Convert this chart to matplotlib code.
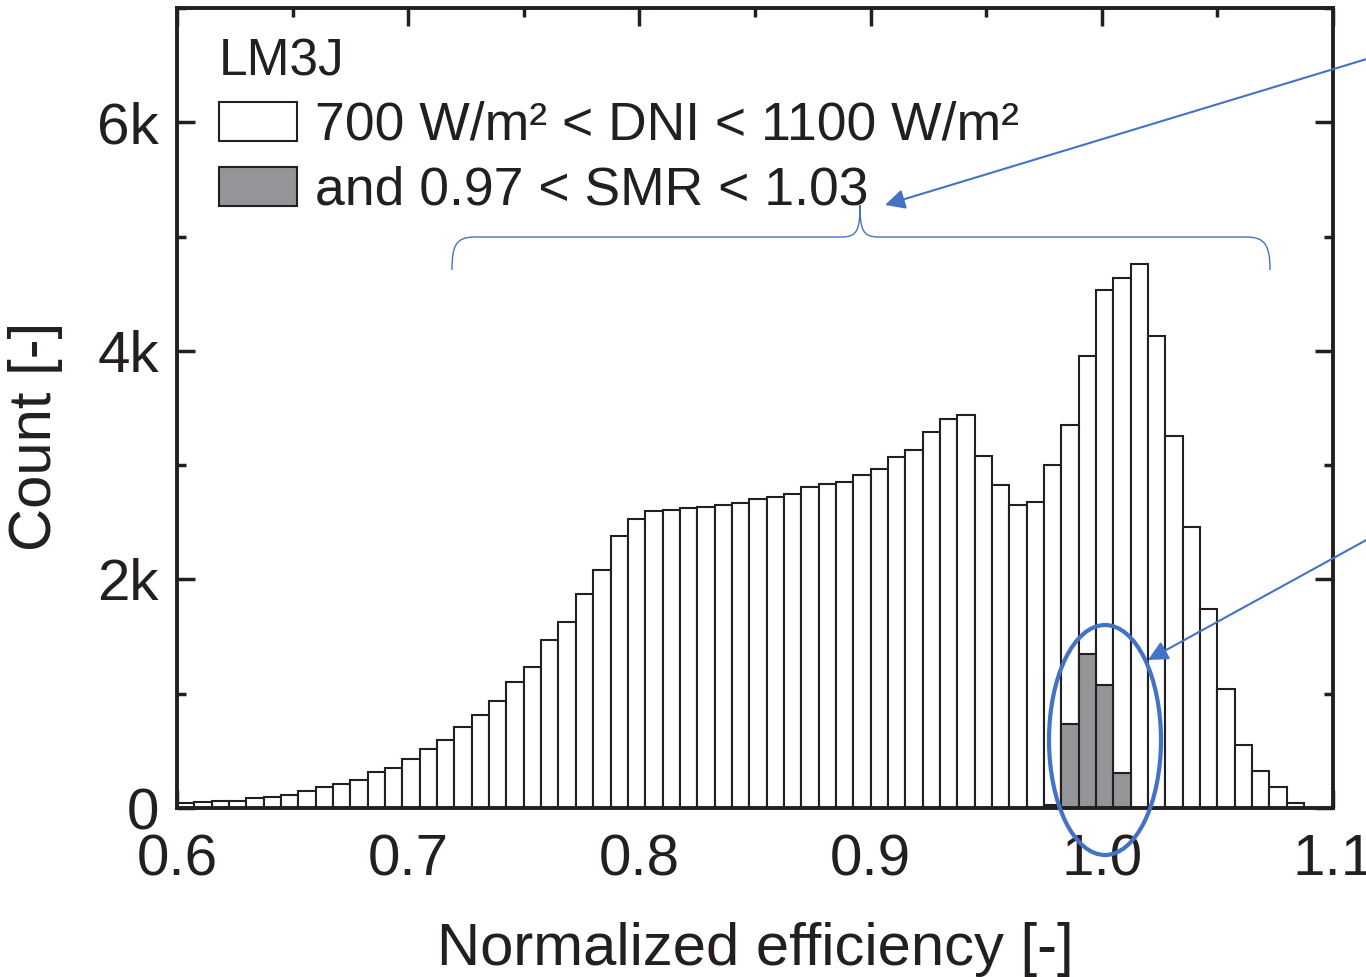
import matplotlib
matplotlib.use('Agg')
import matplotlib.pyplot as plt
import matplotlib.transforms as mtransforms
from matplotlib.patches import Patch, Ellipse, FancyArrowPatch, PathPatch
from matplotlib.path import Path
from matplotlib.ticker import MultipleLocator, FuncFormatter
import numpy as np

plt.rcParams['font.family'] = ['Liberation Sans', 'DejaVu Sans']

# histogram data (counts per bin), bins start at 0.6 with width 0.0075
bin_start = 0.6
bin_width = 0.0075
counts_all = [40, 50, 62, 58, 84, 100, 112, 150, 185, 213,
              242, 315, 352, 428, 520, 597, 707, 816, 938, 1102,
              1238, 1471, 1628, 1870, 2085, 2376, 2533, 2597, 2609, 2621,
              2635, 2652, 2670, 2702, 2719, 2748, 2807, 2839, 2853, 2914,
              2970, 3075, 3130, 3290, 3400, 3441, 3083, 2830, 2650, 2675,
              2999, 3349, 3952, 4532, 4639, 4757, 4129, 3252, 2461, 1742,
              1042, 548, 323, 187, 42]
# subset with 0.97 < SMR < 1.03 (bins 50..54)
smr_first_bin = 50
counts_smr = [25, 732, 1345, 1074, 303]

label_all = '700 W/m² < DNI < 1100 W/m²'
label_smr = 'and 0.97 < SMR < 1.03'
legend_title = 'LM3J'

W, H = 1366, 977
fig = plt.figure(figsize=(W / 100, H / 100), dpi=100)
ax = fig.add_axes([177 / W, 1 - 808 / H, (1333 - 177) / W, 800 / H])

edge = '#231f20'
gray = '#939598'
blue = '#4472c4'

x_all = bin_start + np.arange(len(counts_all)) * bin_width
x_smr = bin_start + (smr_first_bin + np.arange(len(counts_smr))) * bin_width
ax.bar(x_all, counts_all, width=bin_width, align='edge', color='white',
       edgecolor=edge, linewidth=1.5, zorder=2)
ax.bar(x_smr, counts_smr, width=bin_width, align='edge', color=gray,
       edgecolor=edge, linewidth=1.5, zorder=3)

ax.set_xlim(0.6, 1.1)
ax.set_ylim(0, 7000)
ax.xaxis.set_major_locator(MultipleLocator(0.1))
ax.xaxis.set_minor_locator(MultipleLocator(0.05))
ax.yaxis.set_major_locator(MultipleLocator(2000))
ax.yaxis.set_minor_locator(MultipleLocator(1000))
ax.xaxis.set_major_formatter(FuncFormatter(lambda v, p: '%.1f' % v))
ax.yaxis.set_major_formatter(FuncFormatter(lambda v, p: '0' if v == 0 else '%dk' % round(v / 1000)))

ax.tick_params(which='both', direction='in', top=True, right=True,
               width=2.5, color=edge, labelsize=42, labelcolor=edge)
ax.tick_params(which='major', length=13)
ax.tick_params(which='minor', length=6.5)
ax.tick_params(axis='x', pad=18)
ax.tick_params(axis='y', pad=13)
for s in ax.spines.values():
    s.set_linewidth(2.8)
    s.set_color(edge)
    s.set_zorder(5)

ax.set_xlabel('Normalized efficiency [-]', fontsize=43, color=edge)
ax.set_ylabel('Count [-]', fontsize=43, color=edge)
ax.xaxis.set_label_coords(0.5, -0.143)
ax.yaxis.set_label_coords(-0.099, 0.464)

handles = [Patch(facecolor='white', edgecolor=edge, linewidth=1.5),
           Patch(facecolor=gray, edgecolor=edge, linewidth=1.5)]
leg = ax.legend(handles, [label_all, label_smr], title=legend_title,
                loc='upper left', bbox_to_anchor=(219 / W, 1 - 37 / H),
                bbox_transform=fig.transFigure, frameon=False,
                fontsize=38.5, title_fontsize=37, borderpad=0, borderaxespad=0,
                handlelength=1.46, handleheight=0.76, handletextpad=0.33,
                labelspacing=0.28, alignment='left')
for t in leg.get_texts():
    t.set_color(edge)
leg.get_title().set_color(edge)

# blue annotations drawn in figure pixel coordinates
px = mtransforms.Affine2D().scale(1 / W, -1 / H).translate(0, 1) + fig.transFigure

verts = [(452, 270), (452, 245), (456, 237), (475, 237),
         (842, 237),
         (857, 237), (860, 230), (860, 205),
         (860, 230), (863, 237), (878, 237),
         (1246, 237),
         (1265, 237), (1270, 245), (1270, 270)]
codes = [Path.MOVETO, Path.CURVE4, Path.CURVE4, Path.CURVE4,
         Path.LINETO,
         Path.CURVE4, Path.CURVE4, Path.CURVE4,
         Path.CURVE4, Path.CURVE4, Path.CURVE4,
         Path.LINETO,
         Path.CURVE4, Path.CURVE4, Path.CURVE4]
fig.add_artist(PathPatch(Path(verts, codes), transform=px, fill=False,
                         edgecolor=blue, linewidth=1.0))

fig.add_artist(Ellipse((1105, 740), 112, 230, transform=px, fill=False,
                       edgecolor=blue, linewidth=3.0, zorder=10))

for start, end in [((1370, 58), (885, 205)), ((1370, 538), (1148, 660))]:
    fig.add_artist(FancyArrowPatch(start, end, transform=px,
                                   arrowstyle='-|>,head_length=0.6,head_width=0.3',
                                   mutation_scale=20, color=blue, linewidth=1.5,
                                   shrinkA=0, shrinkB=0, zorder=10))

fig.savefig('out.png', dpi=100)
